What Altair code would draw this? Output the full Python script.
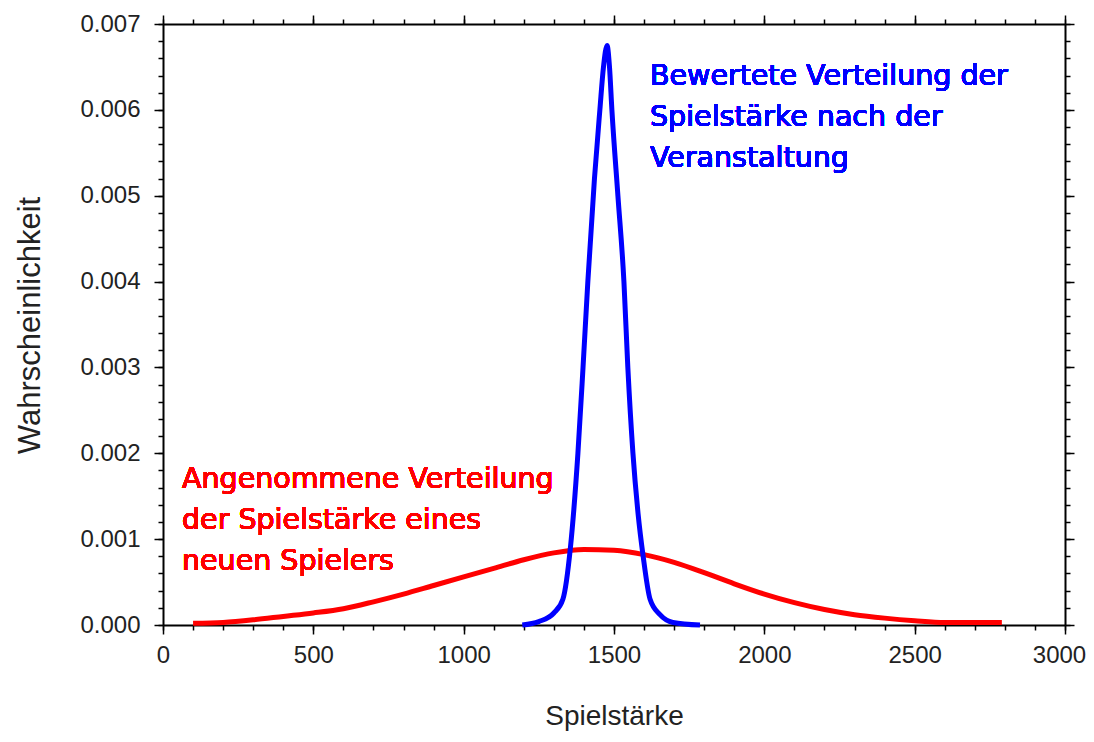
import altair as alt
import pandas as pd

# ---- data ----
red_x = [100, 200, 300, 400, 500, 600, 700, 800, 900, 1000, 1100, 1200, 1300, 1400,
         1500, 1600, 1700, 1800, 1900, 2000, 2100, 2200, 2300, 2400, 2500, 2600, 2700, 2790]
red_y = [0.00002, 0.00003, 0.00006, 0.00010, 0.00014, 0.00019, 0.00027, 0.00036, 0.00046,
         0.00056, 0.00066, 0.00076, 0.00084, 0.00088, 0.00087, 0.00082, 0.00073, 0.00061,
         0.00048, 0.00036, 0.00026, 0.00018, 0.00012, 0.00008, 0.00005, 0.00003, 0.00003, 0.00003]

blue_x = [1195, 1250, 1300, 1330, 1355, 1380, 1397, 1413, 1435, 1453, 1465, 1477, 1485,
          1493, 1513, 1533, 1546, 1563, 1580, 1597, 1620, 1653, 1696, 1786]
blue_y = [0.0, 0.00004, 0.00014, 0.0003, 0.0009, 0.0020, 0.0030, 0.0040, 0.0052, 0.0060,
          0.0065, 0.00675, 0.0065, 0.0060, 0.0050, 0.0040, 0.0030, 0.0020, 0.0013, 0.0008,
          0.0003, 0.00012, 0.00003, 0.0]

x_major = [0, 500, 1000, 1500, 2000, 2500, 3000]
x_minor = [v for v in range(0, 3001, 100)]
y_major = [0.0, 0.001, 0.002, 0.003, 0.004, 0.005, 0.006, 0.007]
y_minor = [round(i * 0.0002, 4) for i in range(36)]

x_title = "Spielstärke"
y_title = "Wahrscheinlichkeit"
blue_label = ["Bewertete Verteilung der", "Spielstärke nach der", "Veranstaltung"]
red_label = ["Angenommene Verteilung", "der Spielstärke eines", "neuen Spielers"]

red_df = pd.DataFrame({"x": red_x, "y": red_y})
blue_df = pd.DataFrame({"x": blue_x, "y": blue_y})

xs = alt.Scale(domain=[0, 3000], nice=False, zero=False)
ys = alt.Scale(domain=[0, 0.007], nice=False, zero=False)

FONT = "Liberation Sans"
common = dict(grid=False, tickColor="black", domainColor="black")

ax_bottom = alt.Axis(orient="bottom", values=x_major, tickSize=9, tickWidth=1.5,
                     domain=True, domainWidth=2, labels=True, labelFont=FONT,
                     labelFontSize=24, labelColor="#222", labelPadding=9,
                     labelFlush=False, format="d",
                     labelOffset={"condition": {"test": "datum.value === 3000", "value": -6},
                                  "value": 0},
                     title=x_title, titleFont=FONT, titleFontSize=28,
                     titleFontWeight="normal", titleColor="#222",
                     titleX=451, titleY=99, titleBaseline="alphabetic",
                     titleAlign="center", **common)
ax_left = alt.Axis(orient="left", values=y_major, tickSize=9, tickWidth=1.5,
                   domain=True, domainWidth=2, labels=True, labelFont=FONT,
                   labelFontSize=24, labelColor="#222", labelPadding=14,
                   labelFlush=False, format=".3f",
                   title=y_title, titleFont=FONT, titleFontSize=31,
                   titleFontWeight="normal", titleColor="#222",
                   titleX=-133, titleY=301, titleAngle=270,
                   titleBaseline="middle", titleAlign="center", **common)
ax_top = alt.Axis(orient="top", values=x_major, tickSize=9, tickWidth=1.5,
                  domain=True, domainWidth=2, labels=False, title=None, **common)
ax_right = alt.Axis(orient="right", values=y_major, tickSize=9, tickWidth=1.5,
                    domain=True, domainWidth=2, labels=False, title=None, **common)

ax_bottom_minor = alt.Axis(orient="bottom", values=x_minor, tickSize=5, tickWidth=1.5,
                           domain=False, labels=False, title=None, **common)
ax_left_minor = alt.Axis(orient="left", values=y_minor, tickSize=5, tickWidth=1.5,
                         domain=False, labels=False, title=None, **common)
ax_top_minor = alt.Axis(orient="top", values=x_minor, tickSize=5, tickWidth=1.5,
                        domain=False, labels=False, title=None, **common)
ax_right_minor = alt.Axis(orient="right", values=y_minor, tickSize=5, tickWidth=1.5,
                          domain=False, labels=False, title=None, **common)

red_line = alt.Chart(red_df).mark_line(
    color="#ff0000", strokeWidth=5, interpolate="monotone"
).encode(
    x=alt.X("x:Q", scale=xs, axis=ax_bottom),
    y=alt.Y("y:Q", scale=ys, axis=ax_left),
)

blue_line = alt.Chart(blue_df).mark_line(
    color="#0000ff", strokeWidth=5, interpolate="monotone"
).encode(
    x=alt.X("x:Q", scale=xs, axis=ax_top),
    y=alt.Y("y:Q", scale=ys, axis=ax_right),
)

minor1 = alt.Chart(red_df).mark_line(opacity=0).encode(
    x=alt.X("x:Q", scale=xs, axis=ax_bottom_minor),
    y=alt.Y("y:Q", scale=ys, axis=ax_left_minor),
)
minor2 = alt.Chart(red_df).mark_line(opacity=0).encode(
    x=alt.X("x:Q", scale=xs, axis=ax_top_minor),
    y=alt.Y("y:Q", scale=ys, axis=ax_right_minor),
)

blue_text = alt.Chart(red_df).mark_text(
    text=blue_label, align="left", baseline="alphabetic", font="DejaVu Sans",
    fontSize=28.5, lineHeight=41, color="#0000ff"
).encode(x=alt.value(487), y=alt.value(61))

red_text = alt.Chart(red_df).mark_text(
    text=red_label, align="left", baseline="alphabetic", font="DejaVu Sans",
    fontSize=28.5, lineHeight=41, color="#ff0000"
).encode(x=alt.value(19), y=alt.value(464))

chart = alt.layer(
    minor1, minor2, red_line, blue_line, red_text, blue_text
).resolve_axis(
    x="independent", y="independent"
).properties(
    width=902, height=601, autosize="none",
    padding={"left": 155, "top": 16, "right": 21, "bottom": 109},
    background="white",
).configure_view(stroke=None)

chart.save("out.html", embed_options={"renderer": "svg", "actions": False})
